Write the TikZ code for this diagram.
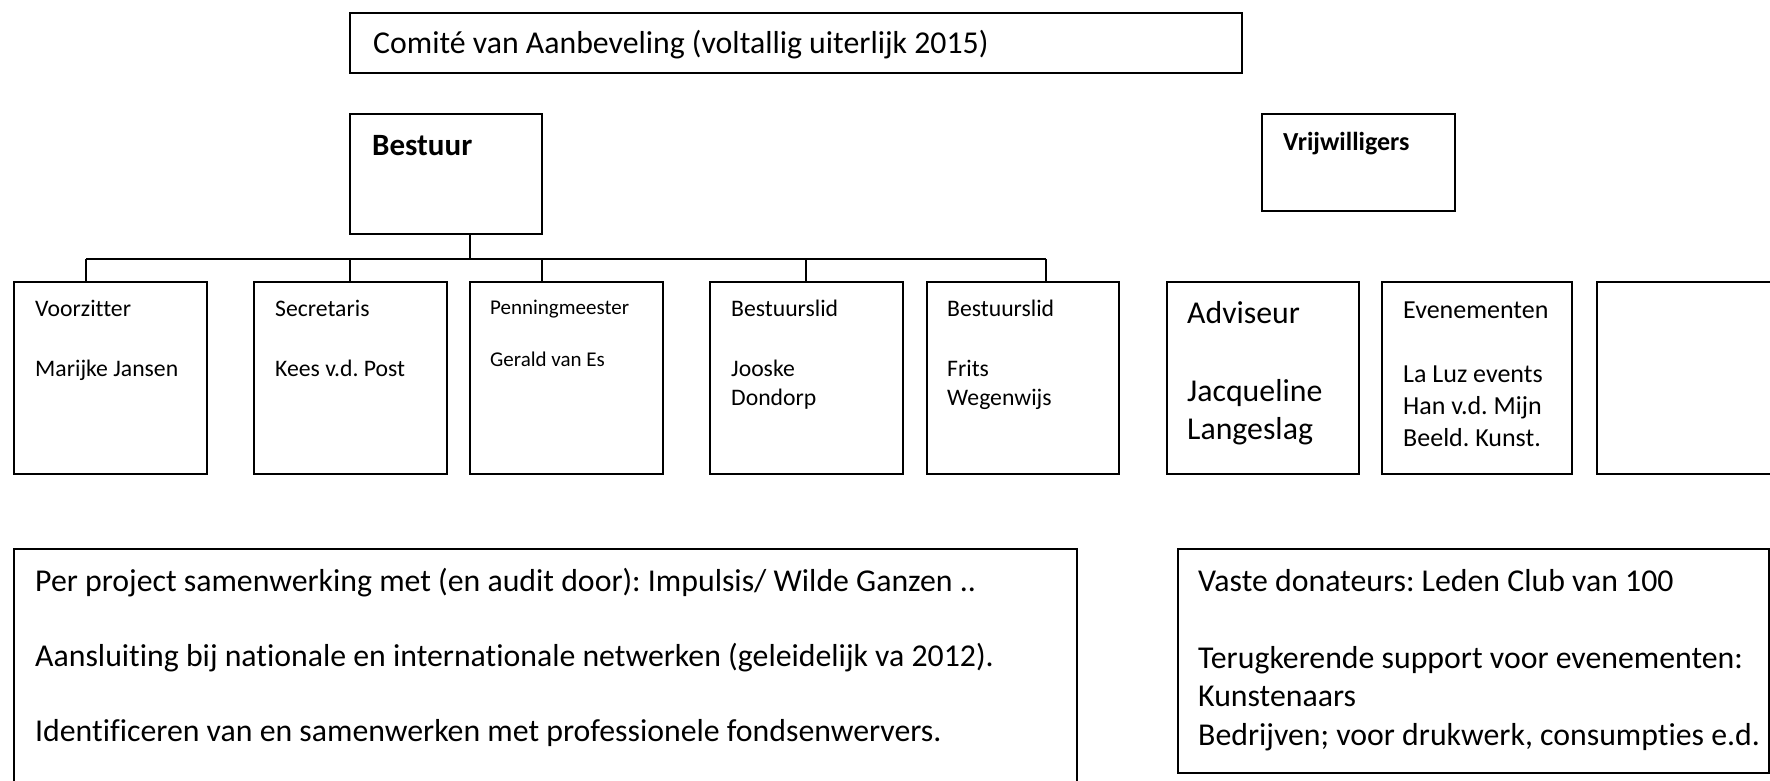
\documentclass[tikz,border=0pt]{standalone}
\usepackage{fontspec}
\setmainfont{Carlito}[Ligatures={NoCommon}]
\frenchspacing
\begin{document}
\begin{tikzpicture}[x=1pt,y=-1pt,
  box/.style={draw, line width=2pt, rectangle, anchor=north west, inner sep=0pt, outer sep=0pt},
  conn/.style={line width=2pt},
  txtbig/.style={anchor=base west, inner sep=0pt, font=\fontsize{31.8}{38.4}\selectfont},
  txtmid/.style={anchor=base west, inner sep=0pt, font=\fontsize{23.7}{29}\selectfont},
  txtsml/.style={anchor=base west, inner sep=0pt, font=\fontsize{21}{25.6}\selectfont},
  txtev/.style={anchor=base west, inner sep=0pt, font=\fontsize{26}{31.7}\selectfont},
  txthead/.style={anchor=base west, inner sep=0pt, font=\fontsize{31}{37.8}\selectfont\bfseries},
  txtvrij/.style={anchor=base west, inner sep=0pt, font=\fontsize{26}{31.7}\selectfont\bfseries}
]
\useasboundingbox (0,0) rectangle (1770,781);
\clip (0,0) rectangle (1770,781);

% boxes
\node[box, minimum width=892pt, minimum height=60pt] (comite) at (350,13) {};
\node[box, minimum width=192pt, minimum height=120pt] (bestuur) at (350,114) {};
\node[box, minimum width=193pt, minimum height=97pt] (vrijw) at (1262,114) {};
\node[box, minimum width=193pt, minimum height=192pt] (voorz) at (14,282) {};
\node[box, minimum width=193pt, minimum height=192pt] (secr) at (254,282) {};
\node[box, minimum width=193pt, minimum height=192pt] (penn) at (470,282) {};
\node[box, minimum width=193pt, minimum height=192pt] (lid1) at (710,282) {};
\node[box, minimum width=192pt, minimum height=192pt] (lid2) at (927,282) {};
\node[box, minimum width=192pt, minimum height=192pt] (advis) at (1167,282) {};
\node[box, minimum width=190pt, minimum height=192pt] (evene) at (1382,282) {};
\node[box, minimum width=220pt, minimum height=192pt] (leeg) at (1597,282) {};
\node[box, minimum width=1063pt, minimum height=260pt] (samenw) at (14,549) {};
\node[box, minimum width=591pt, minimum height=224pt] (donat) at (1178,549) {};

% connectors
\coordinate (j0) at (470,259);
\coordinate (d1) at (86,259);
\coordinate (d2) at (350,259);
\coordinate (d3) at (542,259);
\coordinate (d4) at (806,259);
\coordinate (d5) at (1046,259);
\draw[conn] (j0 |- bestuur.south) -- (j0);
\draw[conn] (d1) -- (d5);
\draw[conn] (d1) -- (d1 |- voorz.north);
\draw[conn] (d2) -- (d2 |- secr.north);
\draw[conn] (d3) -- (d3 |- penn.north);
\draw[conn] (d4) -- (d4 |- lid1.north);
\draw[conn] (d5) -- (d5 |- lid2.north);

% texts
\node[txtbig] (t-com) at (373,54) {Comité van Aanbeveling (voltallig uiterlijk 2015)};
\node[txthead] (t-best) at (372,156) {Bestuur};
\node[txtvrij] (t-vrij) at (1283,151) {Vrijwilligers};

\node[txtmid] (t-voorz1) at (35,316) {Voorzitter};
\node[txtmid] (t-voorz2) at (35,376) {Marijke Jansen};
\node[txtmid] (t-secr1) at (275,316) {Secretaris};
\node[txtmid] (t-secr2) at (275,376) {Kees v.d. Post};
\node[txtsml] (t-penn1) at (490,314) {Penningmeester};
\node[txtsml] (t-penn2) at (490,366) {Gerald van Es};
\node[txtmid] (t-lid11) at (731,316) {Bestuurslid};
\node[txtmid] (t-lid12) at (731,376) {Jooske};
\node[txtmid] (t-lid13) at (731,405) {Dondorp};
\node[txtmid] (t-lid21) at (947,316) {Bestuurslid};
\node[txtmid] (t-lid22) at (947,376) {Frits};
\node[txtmid] (t-lid23) at (947,405) {Wegenwijs};

\node[txtbig] (t-adv1) at (1187,323) {Adviseur};
\node[txtbig] (t-adv2) at (1187,401) {Jacqueline};
\node[txtbig] (t-adv3) at (1187,439) {Langeslag};

\node[txtev] (t-ev1) at (1403,318) {Evenementen};
\node[txtev] (t-ev2) at (1403,382) {La Luz events};
\node[txtev] (t-ev3) at (1403,414) {Han v.d. Mijn};
\node[txtev] (t-ev4) at (1403,446) {Beeld. Kunst.};

\node[txtbig] (t-sw1) at (35,591) {Per project samenwerking met (en audit door): Impulsis/ Wilde Ganzen ..};
\node[txtbig] (t-sw2) at (35,666) {Aansluiting bij nationale en internationale netwerken (geleidelijk va 2012).};
\node[txtbig] (t-sw3) at (35,741) {Identificeren van en samenwerken met professionele fondsenwervers.};

\node[txtbig] (t-do1) at (1198,591) {Vaste donateurs: Leden Club van 100};
\node[txtbig] (t-do2) at (1198,668) {Terugkerende support voor evenementen:};
\node[txtbig] (t-do3) at (1198,706) {Kunstenaars};
\node[txtbig] (t-do4) at (1198,745) {Bedrijven; voor drukwerk, consumpties e.d.};
\end{tikzpicture}
\end{document}
